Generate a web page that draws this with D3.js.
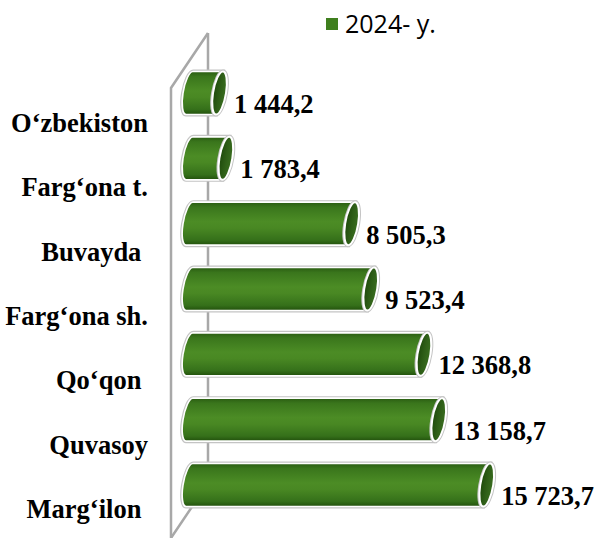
<!DOCTYPE html>
<html><head><meta charset="utf-8">
<script src="https://cdn.jsdelivr.net/npm/d3@7"></script>
<style>html,body{margin:0;padding:0;background:#fff}svg{display:block}</style>
</head><body>
<svg id="c" width="599" height="538"></svg>
<script>
const categories = ["O‘zbekiston","Farg‘ona t.","Buvayda ","Farg‘ona sh.","Qo‘qon ","Quvasoy","Marg‘ilon "];
const values = [1444.2, 1783.4, 8505.3, 9523.4, 12368.8, 13158.7, 15723.7];
const seriesName = "2024- y.";

const svg = d3.select("#c");
const fmt = d3.formatLocale({decimal:",", thousands:" ", grouping:[3], currency:["",""]}).format(",.1f");

const x = d3.scaleLinear().domain([0,16000]).range([199, 498.4]);
const yBar = d3.scalePoint().domain(categories).range([93, 485]);
const yLab = d3.scalePoint().domain(categories).range([132, 518]);

const defs = svg.append("defs");
const g1 = defs.append("linearGradient").attr("id","body").attr("x1",0).attr("y1",0).attr("x2",0).attr("y2",1);
[[0,"#2a5c12"],[0.12,"#3a761c"],[0.45,"#4c8c25"],[0.6,"#498823"],[0.88,"#35701a"],[1,"#22500c"]].forEach(s=>g1.append("stop").attr("offset",s[0]).attr("stop-color",s[1]));
const g2 = defs.append("linearGradient").attr("id","cap").attr("x1",0).attr("y1",0).attr("x2",1).attr("y2",0);
[[0,"#1f4a0c"],[0.5,"#2e5e17"],[1,"#3a6e20"]].forEach(s=>g2.append("stop").attr("offset",s[0]).attr("stop-color",s[1]));

// wall
const fx = 171, bx = 208, topF = 88, topB = 33, botF = 538, botB = 483;
const wall = svg.append("g").attr("fill","none").attr("stroke","#a8a8a8").attr("stroke-width",2.5);
wall.append("path").attr("d",`M${fx},${botF}L${bx},${botB}M${bx},${botB}L${bx},${topB}`);
wall.append("path").attr("d",`M${fx},${botF}L${fx},${topF}L${bx},${topB}`);

// bars
const h2 = 21.5, rx = 6.5, xl = 189.5;
const bars = svg.append("g").selectAll("g").data(categories).join("g")
  .attr("transform", d => `translate(0,${yBar(d)}) skewX(-9)`);
function bodyPath(i){
  const cx = x(values[i]) - rx;
  return `M${cx},${-h2}L${xl},${-h2}A${rx},${h2} 0 0 0 ${xl},${h2}L${cx},${h2}Z`;
}
bars.append("path").attr("d",(d,i)=>bodyPath(i)).attr("fill","none").attr("stroke","#c4c4c4").attr("stroke-width",4);
bars.append("path").attr("d",(d,i)=>bodyPath(i)).attr("fill","url(#body)").attr("stroke","#ffffff").attr("stroke-width",1.6);
bars.append("ellipse").attr("cx",(d,i)=>x(values[i]) - rx).attr("cy",0).attr("rx",rx).attr("ry",h2)
  .attr("fill","url(#cap)").attr("stroke","#c4c4c4").attr("stroke-width",4);
bars.append("ellipse").attr("cx",(d,i)=>x(values[i]) - rx).attr("cy",0).attr("rx",rx).attr("ry",h2)
  .attr("fill","url(#cap)").attr("stroke","#ffffff").attr("stroke-width",2);

// value labels
svg.append("g").selectAll("text").data(categories).join("text")
  .attr("x",(d,i)=>x(values[i]) + 8).attr("y",d=>yBar(d)+20)
  .attr("font-family","'Liberation Serif','Times New Roman',serif").attr("font-weight","bold").attr("font-size",26.5)
  .attr("fill","#000").text((d,i)=>fmt(values[i]));

// category labels
svg.append("g").selectAll("text").data(categories).join("text")
  .attr("x",148).attr("y",d=>yLab(d)).attr("text-anchor","end")
  .style("white-space","pre").attr("xml:space","preserve")
  .attr("font-family","'Liberation Serif','Times New Roman',serif").attr("font-weight","bold").attr("font-size",26.5)
  .attr("fill","#000").text(d=>d);

// legend
const lg = svg.append("g");
lg.append("rect").attr("x",326).attr("y",18).attr("width",12).attr("height",12).attr("fill","#3f7f1e");
lg.append("text").attr("x",345).attr("y",33).style("white-space","pre").attr("xml:space","preserve")
  .attr("font-family","'Open Sans','Noto Sans',sans-serif").attr("font-size",25).attr("fill","#000").text(seriesName);
</script>
</body></html>
